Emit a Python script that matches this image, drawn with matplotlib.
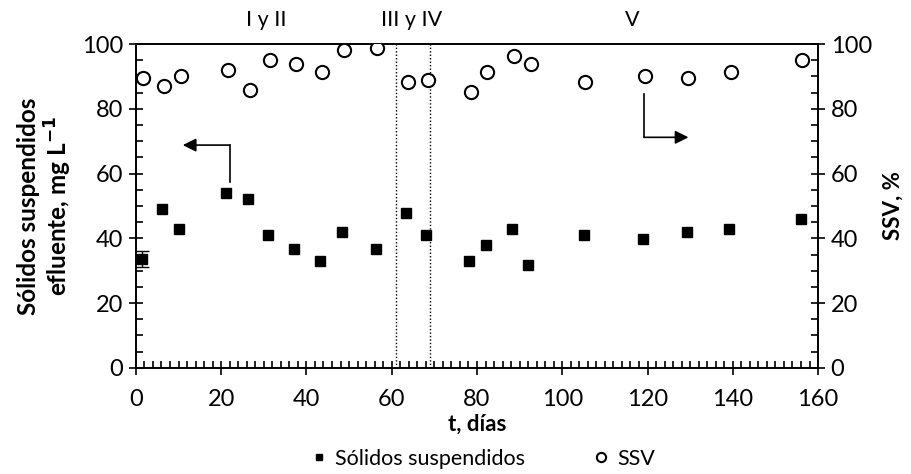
import matplotlib
matplotlib.use("Agg")
import matplotlib.pyplot as plt
from matplotlib.ticker import MultipleLocator

plt.rcParams['font.family'] = ['Lato', 'DejaVu Sans']

# Data
ss_t = [1.5, 6.1, 10.0, 21.2, 26.3, 31.0, 37.1, 43.2, 48.4, 56.2, 63.3, 68.0,
        78.2, 82.0, 88.1, 92.0, 105.0, 119.0, 129.3, 139.0, 155.9]
ss_v = [33.6, 49.1, 42.8, 53.9, 52.0, 41.0, 36.7, 33.0, 41.8, 36.7, 47.8, 41.0,
        33.0, 38.0, 42.9, 31.8, 41.0, 39.8, 41.8, 42.9, 46.0]
err_t = [1.5]
err_v = [33.6]
err_e = [2.5]

ssv_t = [1.6, 6.7, 10.5, 21.7, 26.8, 31.5, 37.6, 43.6, 48.8, 56.6, 63.8, 68.4,
         78.7, 82.4, 88.6, 92.7, 105.4, 119.3, 129.6, 139.5, 156.3]
ssv_v = [89.5, 87.0, 90.2, 92.0, 85.8, 95.1, 93.8, 91.4, 98.1, 98.8, 88.3, 88.9,
         85.2, 91.4, 96.3, 93.8, 88.3, 90.1, 89.5, 91.5, 95.1]

phase_lines = [61, 69]
phase_labels = ["I y II", "III y IV", "V"]
phase_label_x = [30.5, 64.7, 116.5]

fig = plt.figure(figsize=(9.12, 4.74), dpi=100)
ax = fig.add_axes([0.149, 0.224, 0.748, 0.683])
ax2 = ax.twinx()

ax.plot(ss_t, ss_v, 's', color='black', ms=6.5, label='Sólidos suspendidos', zorder=3)
ax.errorbar(err_t, err_v, yerr=err_e, fmt='none', ecolor='black', elinewidth=1,
            capsize=5, zorder=3)
ax2.plot(ssv_t, ssv_v, 'o', mfc='white', mec='black', mew=1.5, ms=9.5,
         label='SSV', zorder=3)

for xv in phase_lines:
    ax.axvline(xv, color='black', ls=(0, (1, 1.5)), lw=1)

ax.set_xlim(0, 160)
ax.set_ylim(0, 100)
ax2.set_ylim(0, 100)

for a in (ax, ax2):
    for s in a.spines.values():
        s.set_linewidth(1.2)

ax.xaxis.set_major_locator(MultipleLocator(20))
ax.xaxis.set_minor_locator(MultipleLocator(2))
ax.yaxis.set_major_locator(MultipleLocator(20))
ax.yaxis.set_minor_locator(MultipleLocator(5))
ax2.yaxis.set_major_locator(MultipleLocator(20))
ax2.yaxis.set_minor_locator(MultipleLocator(5))

ax.tick_params(axis='both', which='major', direction='inout', length=10, width=1.2,
               labelsize=17, top=False)
ax.tick_params(axis='both', which='minor', direction='in', length=5, width=1.2, top=False)
ax.tick_params(axis='y', which='both', right=False)
ax.tick_params(axis='y', pad=4)
ax2.tick_params(axis='y', which='major', direction='inout', length=10, width=1.2,
                labelsize=17, pad=4)
ax2.tick_params(axis='y', which='minor', direction='in', length=5, width=1.2)
ax.tick_params(axis='x', pad=10)

ax.set_xlabel('t, días', fontsize=16, fontweight='bold', labelpad=3)
ax.set_ylabel('Sólidos suspendidos\nefluente, mg L$^{\\mathbf{-1}}$', fontsize=17.5,
              fontweight='bold', labelpad=6, linespacing=1.1)
ax2.set_ylabel('SSV, %', fontsize=16, fontweight='bold', labelpad=8)

for lx, lt in zip(phase_label_x, phase_labels):
    ax.text(lx, 107.5, lt, ha='center', va='center', fontsize=15.5, clip_on=False)

# arrows
ax.annotate('', xy=(11.0, 68.8), xytext=(22.0, 68.8),
            arrowprops=dict(arrowstyle='-|>', color='black', lw=1.2,
                            mutation_scale=20, shrinkA=0, shrinkB=0))
ax.plot([22.0, 22.0], [57.5, 68.8], color='black', lw=1.2)
ax.plot([119.2, 119.2], [84.5, 71.2], color='black', lw=1.2)
ax.annotate('', xy=(129.6, 71.2), xytext=(119.2, 71.2),
            arrowprops=dict(arrowstyle='-|>', color='black', lw=1.2,
                            mutation_scale=20, shrinkA=0, shrinkB=0))

h1, l1 = ax.get_legend_handles_labels()
h2, l2 = ax2.get_legend_handles_labels()
fig.legend(h1 + h2, l1 + l2, loc='lower center', bbox_to_anchor=(0.53, -0.03),
           ncol=2, frameon=False, fontsize=15.5, handlelength=0.7, handletextpad=0.4,
           columnspacing=3.2, markerscale=0.7)

fig.savefig('out.png', dpi=100)
